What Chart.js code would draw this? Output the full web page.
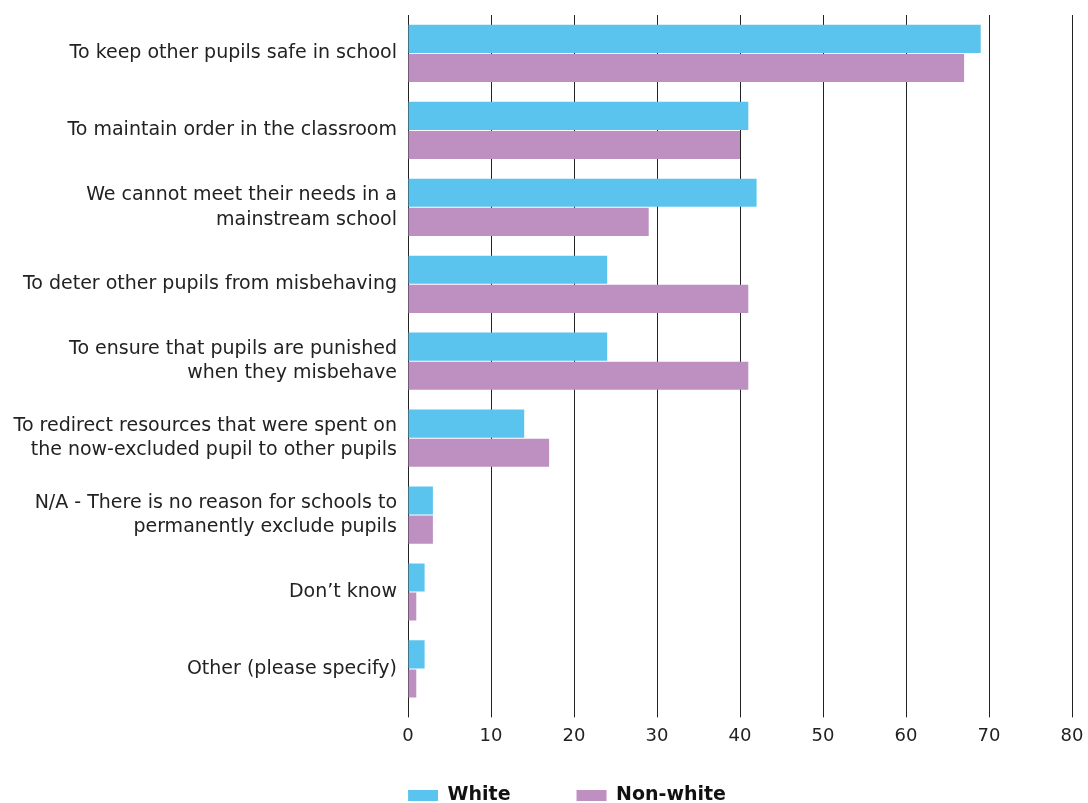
<!DOCTYPE html>
<html>
<head>
<meta charset="utf-8">
<script src="https://cdn.jsdelivr.net/npm/chart.js@4"></script>
<style>
  html, body { margin: 0; padding: 0; background: #fff; }
  #wrap { width: 1088px; height: 803px; }
</style>
</head>
<body>
<div id="wrap"><canvas id="chart"></canvas></div>
<script>
// Reasons for permanent exclusion, by ethnicity (%)
const categories = [
    'To keep other pupils safe in school',
    'To maintain order in the classroom',
    ['We cannot meet their needs in a', 'mainstream school'],
    'To deter other pupils from misbehaving',
    ['To ensure that pupils are punished', 'when they misbehave'],
    ['To redirect resources that were spent on', 'the now-excluded pupil to other pupils'],
    ['N/A - There is no reason for schools to', 'permanently exclude pupils'],
    'Don\u2019t know',
    'Other (please specify)'
];
const whiteValues = [69, 41, 42, 24, 24, 14, 3, 2, 2];
const nonWhiteValues = [67, 40, 29, 41, 41, 17, 3, 1, 1];
const xTicks = [0, 10, 20, 30, 40, 50, 60, 70, 80];

const FONT = '"DejaVu Sans", sans-serif';

// put the legend under the plot area like the original
const legendShift = {
    id: 'legendShift',
    afterUpdate(chart) {
        const lg = chart.legend;
        lg.left += 31;
        lg.right += 31;
        lg.top = 720;
    }
};

const ctx = document.getElementById('chart').getContext('2d');
const chart = new Chart(ctx, {
    type: 'bar',
    data: {
        labels: categories,
        datasets: [
            {
                label: 'White',
                data: whiteValues,
                backgroundColor: '#5bc4ee',
                categoryPercentage: 0.757,
                barPercentage: 0.966,
            },
            {
                label: 'Non-white',
                data: nonWhiteValues,
                backgroundColor: '#bd90c1',
                categoryPercentage: 0.757,
                barPercentage: 0.966,
            },
        ],
    },
    plugins: [legendShift],
    options: {
        indexAxis: 'y',
        responsive: true,
        maintainAspectRatio: false,
        animation: false,
        layout: {
            padding: { top: 15, right: 16, left: 0, bottom: 0 }
        },
        plugins: {
            tooltip: { enabled: false },
            legend: {
                position: 'bottom',
                maxHeight: 48,
                labels: {
                    boxWidth: 30,
                    boxHeight: 11,
                    padding: 66,
                    color: '#111',
                    font: { family: FONT, size: 19, weight: 'bold' },
                },
            },
        },
        scales: {
            x: {
                min: 0,
                max: 80,
                afterBuildTicks(axis) {
                    axis.ticks = xTicks.map(v => ({ value: v }));
                },
                afterFit(axis) {
                    axis.paddingLeft = 0;
                    axis.paddingRight = 0;
                },
                grid: {
                    color: '#222',
                    lineWidth: 1,
                    tickLength: 10,
                    drawTicks: true,
                },
                border: { display: false },
                ticks: {
                    color: '#222',
                    padding: 8,
                    font: { family: FONT, size: 18 },
                },
            },
            y: {
                afterFit(axis) {
                    axis.width = 408;
                    axis.paddingTop = 0;
                    axis.paddingBottom = 0;
                },
                grid: { display: false, drawTicks: false },
                border: { display: true, color: '#222', width: 1 },
                ticks: {
                    color: '#222',
                    padding: 11,
                    font: { family: FONT, size: 19, lineHeight: 1.3 },
                },
            },
        },
    },
});
</script>
</body>
</html>
